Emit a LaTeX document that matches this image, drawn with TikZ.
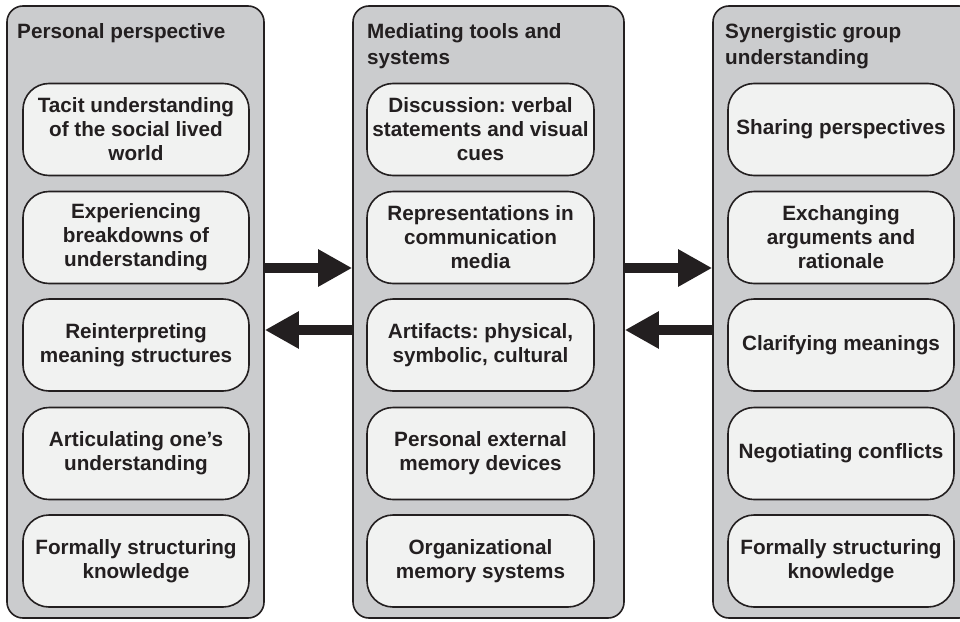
\documentclass[tikz,border=0pt]{standalone}
\usepackage{fontspec}
\setmainfont{Liberation Sans}
\usepackage{tikz}
\usepackage{xcolor}
\usetikzlibrary{arrows.meta}
\definecolor{colgray}{RGB}{203,204,206}
\definecolor{boxfill}{RGB}{241,242,241}
\definecolor{edge}{RGB}{35,31,32}
\frenchspacing

\begin{document}
\begin{tikzpicture}[x=1pt,y=-1pt,
    column/.style={draw=edge,line width=1.6pt,fill=colgray,rounded corners=16pt,minimum height=612pt,inner sep=0pt},
    item/.style={draw=edge,line width=1.6pt,fill=boxfill,rounded corners=26pt,minimum width=226pt,minimum height=92pt,align=center,inner sep=0pt,text=edge,font=\bfseries\fontsize{20.7}{24}\selectfont},
    head/.style={anchor=north west,align=left,inner sep=0pt,text=edge,font=\bfseries\fontsize{20.7}{26}\selectfont},
    bigarrow/.style={draw=edge,line width=10pt,-{Triangle[length=34pt,width=35pt]}}]
            \useasboundingbox (0,0) rectangle (960,621);
            \node[column,minimum width=257pt] (colL) at (135.5,312) {};
            \node[column,minimum width=271pt] (colM) at (488.5,312) {};
            \node[column,minimum width=262pt] (colR) at (844,312) {};
            \node[head] (headL) at (17,23) {Personal perspective};
            \node[head] (headM) at (367,23) {Mediating tools and\\systems};
            \node[head] (headR) at (725,23) {Synergistic group\\understanding};
            \node[item] (tacit) at (136,129.5) {Tacit understanding\\of the social lived\\world};
            \node[item] (breakdown) at (136,237.5) {Experiencing\\breakdowns of\\understanding};
            \node[item] (reinterp) at (136,345) {Reinterpreting\\meaning structures};
            \node[item] (articul) at (136,453.5) {Articulating one’s\\understanding};
            \node[item] (formalL) at (136,561) {Formally structuring\\knowledge};
            \node[item,minimum width=227pt] (discuss) at (480.5,129.5) {Discussion: verbal\\statements and visual\\cues};
            \node[item,minimum width=227pt] (represent) at (480.5,237.5) {Representations in\\communication\\media};
            \node[item,minimum width=227pt] (artifact) at (480.5,345) {Artifacts: physical,\\symbolic, cultural};
            \node[item,minimum width=227pt] (memory) at (480.5,453.5) {Personal external\\memory devices};
            \node[item,minimum width=227pt] (orgmem) at (480.5,561) {Organizational\\memory systems};
            \node[item] (sharing) at (841,129.5) {Sharing perspectives};
            \node[item] (exchange) at (841,237.5) {Exchanging\\arguments and\\rationale};
            \node[item] (clarify) at (841,345) {Clarifying meanings};
            \node[item] (negotiate) at (841,453.5) {Negotiating conflicts};
            \node[item] (formalR) at (841,561) {Formally structuring\\knowledge};
            \draw[bigarrow] (colL.east |- 0,268) -- (colM.west |- 0,268);
            \draw[bigarrow] (colM.west |- 0,330) -- (colL.east |- 0,330);
            \draw[bigarrow] (colM.east |- 0,268) -- (colR.west |- 0,268);
            \draw[bigarrow] (colR.west |- 0,330) -- (colM.east |- 0,330);
        \end{tikzpicture}
\end{document}
